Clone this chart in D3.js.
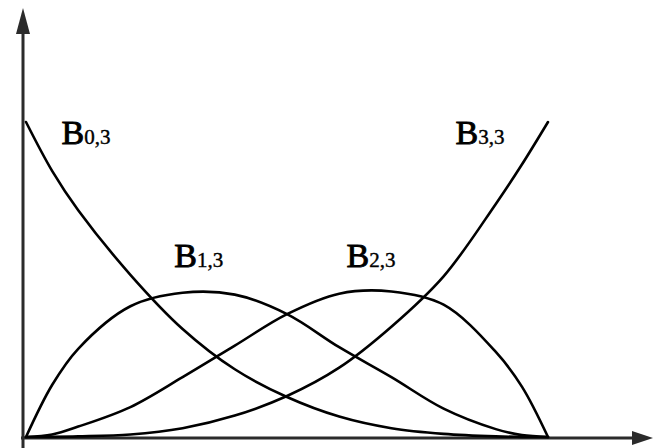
<!DOCTYPE html>
<html>
<head>
<meta charset="utf-8">
<script src="https://cdn.jsdelivr.net/npm/d3@7"></script>
<style>
  body { margin: 0; background: #fff; }
  svg { display: block; }
</style>
</head>
<body>
<svg id="chart"></svg>
<script>
"use strict";

// parameter t and the four cubic basis curves
const tValues = [0, 0.05, 0.1, 0.2, 0.3, 0.4, 0.5, 0.6, 0.7, 0.8, 0.9, 0.95, 1];
const b03 = [1.0, 0.845, 0.72, 0.515, 0.343, 0.215, 0.127, 0.065, 0.028, 0.01, 0.002, 0.0005, 0];
const b13 = [0, 0.165, 0.28, 0.415, 0.458, 0.452, 0.39, 0.285, 0.19, 0.09, 0.025, 0.006, 0];
const b23 = [0, 0.008, 0.033, 0.095, 0.19, 0.29, 0.39, 0.455, 0.462, 0.42, 0.27, 0.16, 0];
const b33 = [0, 0.0005, 0.002, 0.008, 0.028, 0.068, 0.13, 0.22, 0.35, 0.51, 0.74, 0.865, 1.0];

const labels = [
    { main: "B", sub: "0,3", t: 0.068, v: 0.93 },
    { main: "B", sub: "1,3", t: 0.284, v: 0.54 },
    { main: "B", sub: "2,3", t: 0.614, v: 0.54 },
    { main: "B", sub: "3,3", t: 0.823, v: 0.93 }
];

const width = 654;
const height = 448;

const svg = d3.select("#chart")
    .attr("width", width)
    .attr("height", height);

const x = d3.scaleLinear().domain([0, 1]).range([26, 548]);
const y = d3.scaleLinear().domain([0, 1]).range([437, 122]);

// axes with arrow heads
const axisColor = "#2b2b2b";
const axisX = 23;
const axisY = y(0) + 1;

svg.append("line")
    .attr("x1", axisX).attr("y1", height)
    .attr("x2", axisX).attr("y2", 30)
    .attr("stroke", axisColor).attr("stroke-width", 3);
svg.append("path")
    .attr("d", `M${axisX},8 L${axisX - 7},34 L${axisX + 7},34 Z`)
    .attr("fill", axisColor);

svg.append("line")
    .attr("x1", axisX - 2).attr("y1", axisY)
    .attr("x2", 636).attr("y2", axisY)
    .attr("stroke", axisColor).attr("stroke-width", 3);
svg.append("path")
    .attr("d", `M653,${axisY} L632,${axisY - 7} L632,${axisY + 7} Z`)
    .attr("fill", axisColor);

// curves
const line = d3.line()
    .x(d => x(d[0]))
    .y(d => y(d[1]))
    .curve(d3.curveCatmullRom.alpha(0.5));

for (const series of [b03, b13, b23, b33]) {
    svg.append("path")
        .datum(tValues.map((t, i) => [t, series[i]]))
        .attr("d", line)
        .attr("fill", "none")
        .attr("stroke", "#000")
        .attr("stroke-width", 2.6)
        .attr("stroke-linejoin", "round")
        .attr("stroke-linecap", "round");
}

// labels
const text = svg.selectAll(".label")
    .data(labels)
    .enter()
    .append("text")
    .attr("class", "label")
    .attr("x", d => x(d.t))
    .attr("y", d => y(d.v))
    .attr("font-family", "'Liberation Serif', 'DejaVu Serif', serif")
    .attr("fill", "#000");

text.append("tspan")
    .attr("font-size", 34)
    .attr("stroke", "#000")
    .attr("stroke-width", 0.9)
    .text(d => d.main);
text.append("tspan")
    .attr("font-size", 21)
    .attr("stroke", "#000")
    .attr("stroke-width", 0.4)
    .text(d => d.sub);
</script>
</body>
</html>
